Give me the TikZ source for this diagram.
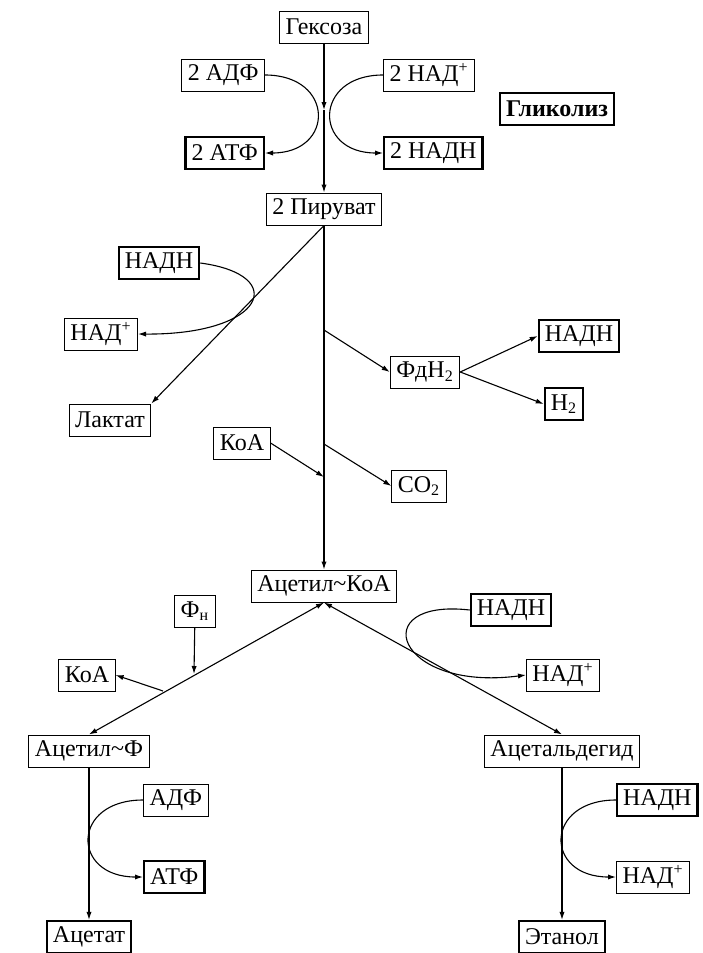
\documentclass[tikz,border=0pt]{standalone}
\usepackage{fontspec}
\setmainfont{Liberation Serif}
\usetikzlibrary{arrows.meta}

\begin{document}
\begin{tikzpicture}[x=0.5pt,y=-0.5pt,>={Latex[length=4pt,width=2.6pt]},
  box/.style={draw,line width=0.5pt,inner xsep=3pt,inner ysep=1pt,minimum height=16pt,font=\fontsize{12}{14}\selectfont},
  boxb/.style={box,line width=1.1pt},
  link/.style={->,line width=0.55pt}]
\useasboundingbox (0,0) rectangle (702,953);
% glycolysis
\node[box] (hex) at (324,27) {Гексоза};
\node[box,anchor=east] (adf2) at (265,75) {2 АДФ};
\node[boxb,anchor=east] (atf2) at (265,153) {2 АТФ};
\node[box,anchor=west] (nad2) at (383,75) {2 НАД\textsuperscript{+}};
\node[boxb,anchor=west] (nadh2) at (383,153) {2 НАДН};
\node[boxb,font=\fontsize{12}{14}\selectfont\bfseries] (glyc) at (557,109) {Гликолиз};
\node[box] (pyr) at (324,209) {2 Пируват};
\coordinate (gmid) at (324,110);
\draw[link] (hex) -- (gmid);
\draw[link] (gmid) -- (pyr);
\draw[link] (adf2.east) to[out=0,in=0,looseness=2.3] (atf2.east);
\draw[link] (nad2.west) to[out=180,in=180,looseness=2.3] (nadh2.west);
% pyruvate
\node[boxb] (nadhL) at (159,263) {НАДН};
\node[box] (nadL) at (101,334) {НАД\textsuperscript{+}};
\node[box] (lac) at (110,420) {Лактат};
\node[box] (fd) at (425,372) {Фд{Н}\textsubscript{2}};
\node[boxb] (nadhR) at (579,336) {НАДН};
\node[boxb] (h2) at (564,404) {Н\textsubscript{2}};
\node[box] (koa1) at (242,443) {КоА};
\node[box] (co2) at (419,486) {СО\textsubscript{2}};
\node[box] (acoa) at (324,586) {Ацетил\textasciitilde КоА};
\coordinate (sp1) at (324,330);
\coordinate (sp2) at (324,444);
\coordinate (sp3) at (324,477);
\draw[link] (pyr.south) -- (lac.north east);
\draw[link] (nadhL.east) .. controls (290,275) and (265,335) .. (nadL.east);
\draw[link] (pyr.south) -- (acoa.north);
\draw[link] (sp1) -- (fd.west);
\draw[link] (fd.east) -- (nadhR.west);
\draw[link] (fd.east) -- (h2.west);
\draw[link] (koa1.east) -- (sp3);
\draw[link] (sp2) -- (co2.west);
% acetyl-CoA
\node[box] (fn) at (195,611) {Ф\textsubscript{н}};
\node[box] (koa2) at (87,675) {КоА};
\node[boxb] (nadhM) at (511,610) {НАДН};
\node[box] (nadM) at (563,675) {НАД\textsuperscript{+}};
\node[box] (acf) at (89,751) {Ацетил\textasciitilde Ф};
\node[box] (ald) at (562,751) {Ацетальдегид};
\coordinate (fnend) at (194,674);
\coordinate (koaout) at (163,691);
\draw[link,<->] (acoa.south) -- (acf.north);
\draw[link,<->] (acoa.south) -- (ald.north);
\draw[link] (fn) -- (fnend);
\draw[link] (koaout) -- (koa2.east);
\draw[link] (nadhM.west) .. controls (365,598) and (395,692) .. (nadM.west);
% end products
\node[box,anchor=west] (adf) at (143,800) {АДФ};
\node[boxb,anchor=west] (atf) at (143,877) {АТФ};
\node[boxb] (acet) at (89,937) {Ацетат};
\node[boxb,anchor=west] (nadhB) at (616,800) {НАДН};
\node[box,anchor=west] (nadB) at (616,877) {НАД\textsuperscript{+}};
\node[boxb] (eth) at (562,937) {Этанол};
\draw[link] (acf) -- (acet);
\draw[link] (adf.west) to[out=180,in=180,looseness=2.4] (atf.west);
\draw[link] (ald) -- (eth);
\draw[link] (nadhB.west) to[out=180,in=180,looseness=2.4] (nadB.west);
\end{tikzpicture}
\end{document}
